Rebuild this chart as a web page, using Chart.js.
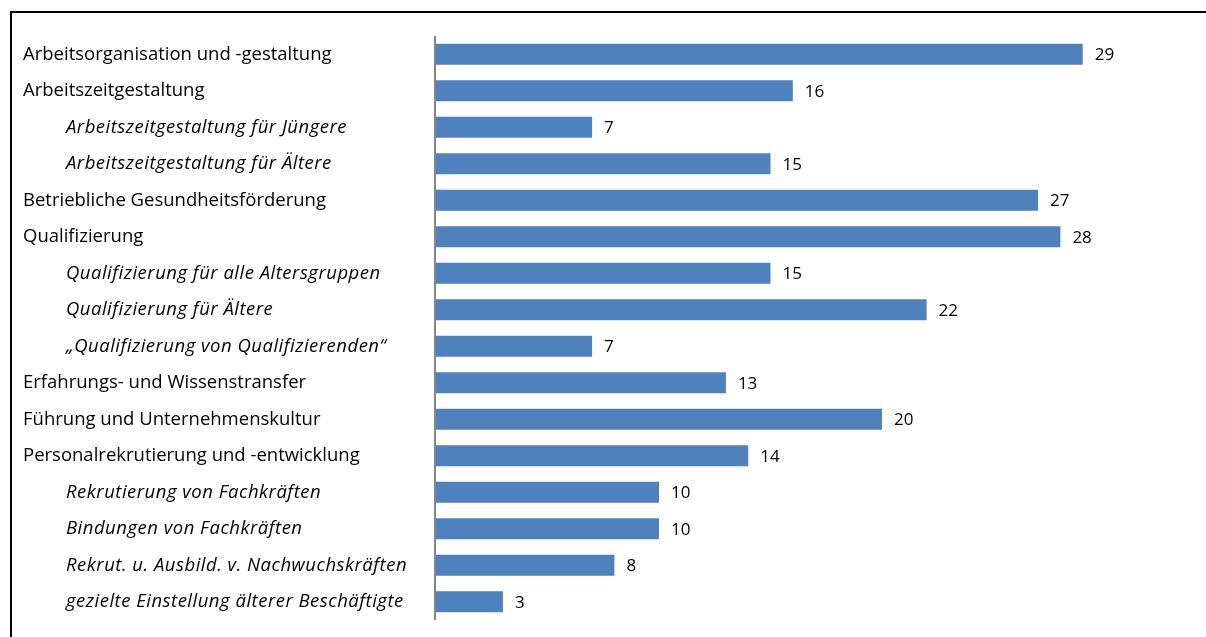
<!DOCTYPE html>
<html>
<head>
<meta charset="utf-8">
<script src="https://cdn.jsdelivr.net/npm/chart.js@4.4.1/dist/chart.umd.min.js"></script>
<style>
  html, body { margin: 0; padding: 0; background: #fff; }
  #wrap { position: relative; width: 1206px; height: 637px; overflow: hidden; }
  #frame { position: absolute; left: 10px; top: 11px; width: 1300px; height: 700px;
    border-top: 2px solid #000; border-left: 2px solid #000; }
  canvas { position: absolute; left: 0; top: 0; }
</style>
</head>
<body>
<div id="wrap">
  <div id="frame"></div>
  <canvas id="chart" width="1206" height="637"></canvas>
</div>
<script>
// categories (subItem 1 = italic, indented)
const categories = [
  "Arbeitsorganisation und -gestaltung",
  "Arbeitszeitgestaltung",
  "Arbeitszeitgestaltung für Jüngere",
  "Arbeitszeitgestaltung für Ältere",
  "Betriebliche Gesundheitsförderung",
  "Qualifizierung",
  "Qualifizierung für alle Altersgruppen",
  "Qualifizierung für Ältere",
  "„Qualifizierung von Qualifizierenden“",
  "Erfahrungs- und Wissenstransfer",
  "Führung und Unternehmenskultur",
  "Personalrekrutierung und -entwicklung",
  "Rekrutierung von Fachkräften",
  "Bindungen von Fachkräften",
  "Rekrut. u. Ausbild. v. Nachwuchskräften",
  "gezielte Einstellung älterer Beschäftigte"
];
const subItem = [0, 0, 1, 1, 0, 0, 1, 1, 1, 0, 0, 0, 1, 1, 1, 1];
const values = [29, 16, 7, 15, 27, 28, 15, 22, 7, 13, 20, 14, 10, 10, 8, 3];

const FONT = "'Open Sans', sans-serif";

// labels left of the axis + values right of the bars
const labelPlugin = {
  id: "labels",
  afterDatasetsDraw(chart) {
    const ctx = chart.ctx;
    const yScale = chart.scales.y;
    const xScale = chart.scales.x;
    const x0 = xScale.getPixelForValue(0);
    ctx.save();
    // axis line
    ctx.strokeStyle = "#868686";
    ctx.lineWidth = 2;
    ctx.beginPath();
    ctx.moveTo(x0 - 1, chart.chartArea.top);
    ctx.lineTo(x0 - 1, chart.chartArea.bottom);
    ctx.stroke();

    ctx.fillStyle = "#000";
    ctx.textBaseline = "middle";
    ctx.textAlign = "left";
    categories.forEach((c, i) => {
      const y = yScale.getPixelForValue(i);
      if (subItem[i]) {
        ctx.font = "italic 18.5px " + FONT;
        ctx.letterSpacing = "0.5px";
        ctx.fillText(c, 66, y);
      } else {
        ctx.font = "18.5px " + FONT;
        ctx.letterSpacing = "0px";
        ctx.fillText(c, 23, y);
      }
    });
    ctx.letterSpacing = "0px";
    const meta = chart.getDatasetMeta(0);
    ctx.font = "17px " + FONT;
    meta.data.forEach((bar, i) => {
      ctx.fillText(String(values[i]), bar.x + 12, bar.y + 1);
    });
    ctx.restore();
  }
};

new Chart(document.getElementById("chart"), {
  type: "bar",
  data: {
    labels: categories,
    datasets: [{
      data: values,
      backgroundColor: "#4F81BD",
      borderWidth: 0,
      categoryPercentage: 1,
      barPercentage: 0.58
    }]
  },
  options: {
    indexAxis: "y",
    responsive: false,
    animation: false,
    layout: { padding: { left: 436, right: 101, top: 36, bottom: 17 } },
    plugins: { legend: { display: false }, tooltip: { enabled: false } },
    scales: {
      x: { display: false, min: 0, max: 30 },
      y: { display: false }
    }
  },
  plugins: [labelPlugin]
});
</script>
</body>
</html>
